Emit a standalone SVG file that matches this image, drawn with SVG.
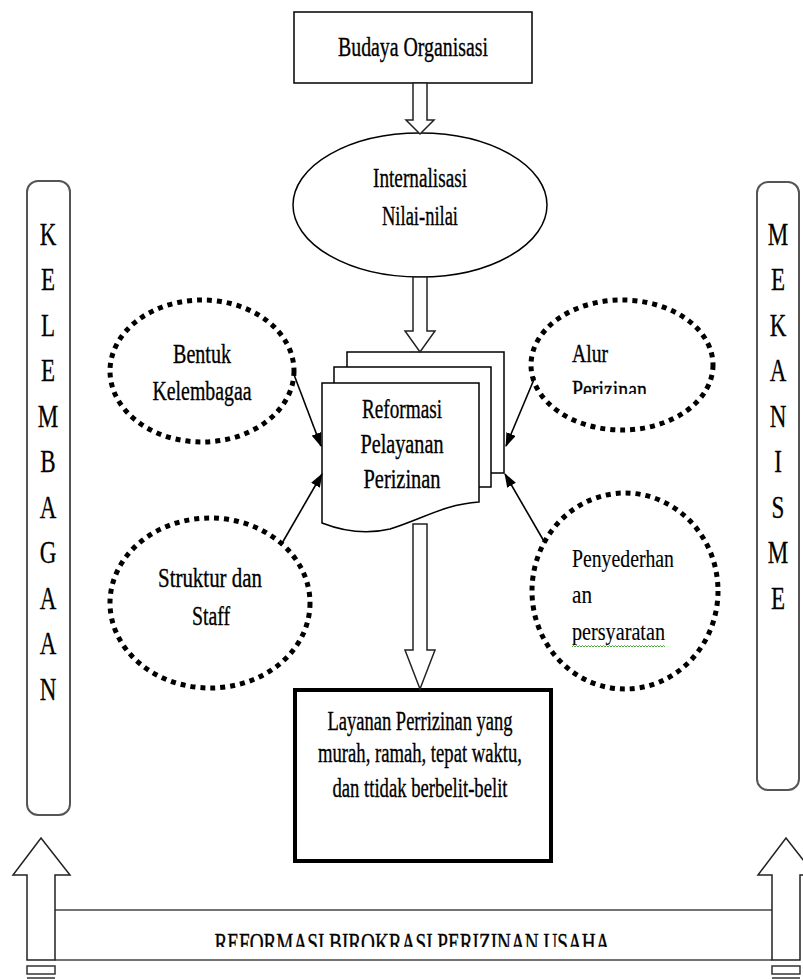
<svg xmlns="http://www.w3.org/2000/svg" width="803" height="979" viewBox="0 0 803 979">
  <style>
    text { font-family: "Liberation Serif", "DejaVu Serif", serif; fill: #000; stroke: #000; stroke-width: 0.35; }
    .lbl { font-size: 28px; text-anchor: middle; }
    .lft { font-size: 26px; text-anchor: start; }
    .side { font-size: 32px; text-anchor: middle; stroke-width: 0.3; }
    .box { fill: #fff; stroke: #000; stroke-width: 1.5; }
    .dot { fill: none; stroke: #000; stroke-width: 5; stroke-dasharray: 5 5; }
    .hollow { fill: #fff; stroke: #222; stroke-width: 1.5; stroke-linejoin: miter; }
    .pillar { fill: none; stroke: #555; stroke-width: 2; }
    .link { stroke: #000; stroke-width: 1.6; fill: none; }
    .bar { stroke: #444; stroke-width: 1.5; fill: none; }
  </style>
  <defs>
    <marker id="tip" markerWidth="14" markerHeight="10" refX="13" refY="5" orient="auto" markerUnits="userSpaceOnUse">
      <path d="M0,0 L14,5 L0,10 Z" fill="#000"/>
    </marker>
    <clipPath id="barClip"><rect x="0" y="900" width="803" height="47"/></clipPath>
    <clipPath id="alurClip"><rect x="530" y="370" width="180" height="24"/></clipPath>
  </defs>

  <!-- side pillars -->
  <g id="kelembagaan">
    <rect class="pillar" x="27" y="181" width="43" height="634" rx="11"/>
    <g transform="translate(48 0) scale(0.72 1)">
      <text class="side" x="0" y="245">K</text>
      <text class="side" x="0" y="290.5">E</text>
      <text class="side" x="0" y="336">L</text>
      <text class="side" x="0" y="381.5">E</text>
      <text class="side" x="0" y="427">M</text>
      <text class="side" x="0" y="472.5">B</text>
      <text class="side" x="0" y="518">A</text>
      <text class="side" x="0" y="563.5">G</text>
      <text class="side" x="0" y="609">A</text>
      <text class="side" x="0" y="654.5">A</text>
      <text class="side" x="0" y="700">N</text>
    </g>
  </g>
  <g id="mekanisme">
    <rect class="pillar" x="757" y="182" width="42" height="608" rx="11"/>
    <g transform="translate(778 0) scale(0.72 1)">
      <text class="side" x="0" y="245">M</text>
      <text class="side" x="0" y="290.5">E</text>
      <text class="side" x="0" y="336">K</text>
      <text class="side" x="0" y="381.5">A</text>
      <text class="side" x="0" y="427">N</text>
      <text class="side" x="0" y="472.5">I</text>
      <text class="side" x="0" y="518">S</text>
      <text class="side" x="0" y="563.5">M</text>
      <text class="side" x="0" y="609">E</text>
    </g>
  </g>

  <!-- top box -->
  <g id="budaya">
    <rect class="box" x="294" y="12" width="238" height="71"/>
    <text class="lbl" x="413" y="56" textLength="150" lengthAdjust="spacingAndGlyphs">Budaya Organisasi</text>
  </g>

  <g id="internalisasi">
    <ellipse class="box" cx="420" cy="205" rx="127" ry="72"/>
    <text class="lbl" x="420" y="187" textLength="94" lengthAdjust="spacingAndGlyphs">Internalisasi</text>
    <text class="lbl" x="420" y="225" textLength="76" lengthAdjust="spacingAndGlyphs">Nilai-nilai</text>
  </g>

  <g id="reformasi">
    <path d="M347,367 V352 H504 V473 H491" fill="none" stroke="#000" stroke-width="1.5"/>
    <path d="M334,383 V367 H491 V487 H479" fill="none" stroke="#000" stroke-width="1.5"/>
    <path class="box" d="M322,383 H479 V502 C445,504 420,520 390,529 C365,535 340,530 322,523 Z"/>
    <text class="lbl" x="402" y="418" font-size="31" textLength="80" lengthAdjust="spacingAndGlyphs">Reformasi</text>
    <text class="lbl" x="402" y="453" font-size="31" textLength="83" lengthAdjust="spacingAndGlyphs">Pelayanan</text>
    <text class="lbl" x="402" y="488" font-size="31" textLength="77" lengthAdjust="spacingAndGlyphs">Perizinan</text>
  </g>

  <g id="bentuk">
    <ellipse class="dot" cx="202" cy="371" rx="92" ry="71"/>
    <text class="lbl" x="202" y="363" textLength="58" lengthAdjust="spacingAndGlyphs">Bentuk</text>
    <text class="lbl" x="202" y="400" textLength="99" lengthAdjust="spacingAndGlyphs">Kelembagaa</text>
  </g>

  <g id="alur">
    <ellipse class="dot" cx="622" cy="365" rx="91" ry="65"/>
    <text class="lft" x="572" y="362" textLength="36" lengthAdjust="spacingAndGlyphs">Alur</text>
    <text class="lft" x="572" y="398" textLength="75" lengthAdjust="spacingAndGlyphs" clip-path="url(#alurClip)">Perizinan</text>
  </g>

  <g id="struktur">
    <ellipse class="dot" cx="210" cy="603" rx="100" ry="85"/>
    <text class="lbl" x="210" y="587" textLength="104" lengthAdjust="spacingAndGlyphs">Struktur dan</text>
    <text class="lbl" x="211" y="625" textLength="38" lengthAdjust="spacingAndGlyphs">Staff</text>
  </g>

  <g id="penyederhanaan">
    <ellipse class="dot" cx="625" cy="591" rx="93" ry="98"/>
    <text class="lft" x="572" y="567" textLength="102" lengthAdjust="spacingAndGlyphs" style="stroke-width:0.15">Penyederhan</text>
    <text class="lft" x="572" y="603" textLength="20" lengthAdjust="spacingAndGlyphs" style="stroke-width:0.15">an</text>
    <text class="lft" x="572" y="640" textLength="93" lengthAdjust="spacingAndGlyphs" style="stroke-width:0.15">persyaratan</text>
    <path d="M572,647 l1.5,-1.5 l1.5,1.5 l1.5,-1.5 l1.5,1.5 l1.5,-1.5 l1.5,1.5 l1.5,-1.5 l1.5,1.5 l1.5,-1.5 l1.5,1.5 l1.5,-1.5 l1.5,1.5 l1.5,-1.5 l1.5,1.5 l1.5,-1.5 l1.5,1.5 l1.5,-1.5 l1.5,1.5 l1.5,-1.5 l1.5,1.5 l1.5,-1.5 l1.5,1.5 l1.5,-1.5 l1.5,1.5 l1.5,-1.5 l1.5,1.5 l1.5,-1.5 l1.5,1.5 l1.5,-1.5 l1.5,1.5 l1.5,-1.5 l1.5,1.5 l1.5,-1.5 l1.5,1.5 l1.5,-1.5 l1.5,1.5 l1.5,-1.5 l1.5,1.5 l1.5,-1.5 l1.5,1.5 l1.5,-1.5 l1.5,1.5 l1.5,-1.5 l1.5,1.5 l1.5,-1.5 l1.5,1.5 l1.5,-1.5 l1.5,1.5 l1.5,-1.5 l1.5,1.5 l1.5,-1.5 l1.5,1.5 l1.5,-1.5 l1.5,1.5 l1.5,-1.5 l1.5,1.5 l1.5,-1.5 l1.5,1.5 l1.5,-1.5 l1.5,1.5 l1.5,-1.5 l1.5,1.5" fill="none" stroke="#3a9a2a" stroke-width="0.9"/>
  </g>

  <g id="layanan">
    <rect x="295" y="690" width="256" height="171" fill="#fff" stroke="#000" stroke-width="4"/>
    <text class="lbl" x="420" y="730" textLength="185" lengthAdjust="spacingAndGlyphs">Layanan Perrizinan yang</text>
    <text class="lbl" x="420" y="762" textLength="204" lengthAdjust="spacingAndGlyphs">murah, ramah, tepat waktu,</text>
    <text class="lbl" x="420" y="797" textLength="175" lengthAdjust="spacingAndGlyphs">dan ttidak berbelit-belit</text>
  </g>

  <!-- base bar -->
  <g id="reformasi-birokrasi">
    <line class="bar" x1="55" y1="910" x2="772" y2="910"/>
    <line class="bar" x1="55" y1="960" x2="772" y2="960"/>
    <text class="lbl" x="412" y="952" font-size="26" textLength="395" lengthAdjust="spacingAndGlyphs" clip-path="url(#barClip)">REFORMASI BIROKRASI PERIZINAN USAHA</text>
  </g>

  <g id="connectors">
    <!-- hollow block arrows -->
    <polygon class="hollow" points="413,83 427,83 427,120 434,120 420,134 406,120 413,120"/>
    <polygon class="hollow" points="413,277 427,277 427,331 435,331 420,352 405,331 413,331"/>
    <polygon class="hollow" points="413,524 427,524 427,650 435,650 420,689 405,650 413,650"/>
    <polygon class="hollow" points="27,960 27,875 13,875 41,838 70,875 55,875 55,960"/>
    <polygon class="hollow" points="772,960 772,875 758,875 786,838 815,875 800,875 800,960"/>
    <rect x="27" y="966" width="28" height="8" fill="#fff" stroke="#333" stroke-width="1.5"/>
    <line x1="27" y1="978" x2="55" y2="978" stroke="#333" stroke-width="1.5"/>
    <rect x="772" y="966" width="28" height="8" fill="#fff" stroke="#333" stroke-width="1.5"/>
    <line x1="772" y1="978" x2="800" y2="978" stroke="#333" stroke-width="1.5"/>
    <!-- pointer arrows into the document -->
    <line class="link" x1="293" y1="372" x2="321" y2="446" marker-end="url(#tip)"/>
    <line class="link" x1="535" y1="377" x2="506" y2="446" marker-end="url(#tip)"/>
    <line class="link" x1="281" y1="545" x2="322" y2="474" marker-end="url(#tip)"/>
    <line class="link" x1="545" y1="543" x2="505" y2="474" marker-end="url(#tip)"/>
  </g>
</svg>
